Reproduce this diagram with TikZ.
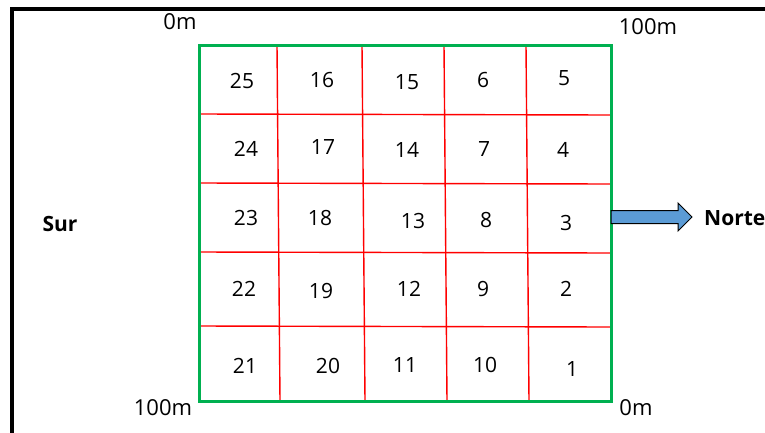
\documentclass[tikz,border=0pt]{standalone}
\usepackage{fontspec}
\setmainfont{Open Sans}
\usetikzlibrary{arrows.meta}
\definecolor{fieldgreen}{RGB}{0,176,80}
\definecolor{arrowblue}{RGB}{91,155,213}

\begin{document}
\begin{tikzpicture}[
    x=1pt,
    y=-1pt,
    frame/.style={line width=4pt, black},
    fieldbox/.style={draw=fieldgreen, line width=3pt, minimum width=412pt, minimum height=356pt, inner sep=0pt},
    gridline/.style={red, line width=1.4pt},
    plotnum/.style={font=\fontsize{21}{24}\selectfont, inner sep=0pt},
    distlabel/.style={font=\fontsize{22}{26}\selectfont, inner sep=0pt},
    dirlabel/.style={font=\fontsize{21}{24}\selectfont\bfseries, inner sep=0pt},
    northarrow/.style={draw=black, line width=1pt, fill=arrowblue, line join=miter}
  ]
  \useasboundingbox (0,0) rectangle (765,432);
  \draw[frame] (11.5,434) -- (11.5,8.5) -- (767,8.5);

  % plot divisions
  \foreach \xt/\xb in {277/280, 362/365, 444/447, 526/529}
    \draw[gridline] (\xt,45) -- (\xb,401);
  \foreach \yl/\yr in {114/115, 183/184, 252/253, 326/327}
    \draw[gridline] (199,\yl) -- (611,\yr);

  \node[fieldbox] (field) at (405,223) {};

  \foreach \n/\px/\py in {25/242/81, 16/322/80, 15/407/82, 6/483/80, 5/564/78,
                          24/246/149, 17/323/147, 14/407/150, 7/484/149, 4/563/150,
                          23/246/218, 18/320/218, 13/413/221, 8/486/220, 3/566/223,
                          22/244/289, 19/321/291, 12/409/289, 9/483/289, 2/566/289,
                          21/245/366, 20/328/366, 11/405/365, 10/485/365, 1/572/369}
    \node[plotnum] (p\n) at (\px,\py) {\n};

  \node[distlabel] (topleft) at (180,22) {0m};
  \node[distlabel] (topright) at (648,27) {100m};
  \node[distlabel] (bottomleft) at (163,408) {100m};
  \node[distlabel] (bottomright) at (636,408) {0m};

  \node[dirlabel] (sur) at (60,224) {Sur};
  \node[dirlabel, anchor=west] (norte) at (704,218) {Norte};

  \draw[northarrow] (611,210.5) -- (678,210.5) -- (678,203) -- (692,217)
    -- (678,231) -- (678,223.5) -- (611,223.5) -- cycle;
\end{tikzpicture}
\end{document}
